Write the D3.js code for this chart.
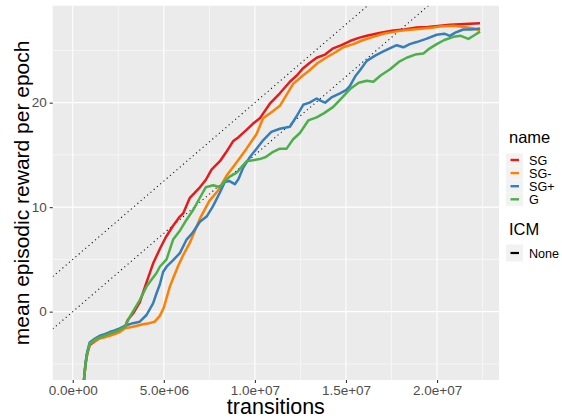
<!DOCTYPE html>
<html>
<head>
<meta charset="utf-8">
<script src="https://cdn.jsdelivr.net/npm/d3@7"></script>
<style>
  html, body { margin: 0; padding: 0; background: #fff; }
  svg { display: block; font-family: "Liberation Sans", Arial, sans-serif; }
</style>
</head>
<body>
<svg id="chart" width="562" height="419"></svg>
<script>
// Training curves: mean episodic reward per epoch vs. transitions (millions)
const seriesNames = ["SG", "SG-", "SG+", "G"];
const seriesColors = ["#E41A1C", "#FF7F00", "#377EB8", "#4DAF4A"];

const sgX = [0.55, 0.62, 0.7, 0.79, 0.93, 1.2, 1.48, 1.75, 2.03, 2.3, 2.58, 2.86, 3.02, 3.3, 3.68, 4.05, 4.41, 4.78, 5.1, 5.5, 5.88, 6.06, 6.43, 6.98, 7.3, 7.62, 8.08, 8.4, 8.8, 9.1, 9.54, 9.9, 10.27, 10.82, 11.37, 11.92, 12.3, 12.65, 13.0, 13.39, 13.85, 14.3, 14.75, 15.22, 15.7, 16.14, 16.9, 17.6, 18.2, 18.88, 19.5, 20.17, 20.71, 21.26, 21.8, 22.36];
const sgY = [-9.0, -6.5, -5.1, -4.1, -3.2, -2.85, -2.55, -2.4, -2.2, -2.0, -1.8, -1.5, -0.8, -0.2, 0.9, 2.8, 4.6, 6.0, 7.1, 8.2, 9.1, 9.4, 10.9, 11.9, 12.6, 13.6, 14.4, 15.2, 16.3, 16.7, 17.4, 18.0, 18.5, 19.9, 20.9, 22.0, 22.6, 23.3, 23.8, 24.3, 24.6, 25.2, 25.5, 25.9, 26.2, 26.4, 26.7, 26.9, 27.0, 27.2, 27.25, 27.35, 27.45, 27.5, 27.55, 27.6];

const sgmX = [0.55, 0.62, 0.7, 0.79, 0.93, 1.2, 1.48, 1.75, 2.03, 2.3, 2.58, 2.86, 3.3, 3.86, 4.2, 4.5, 4.78, 5.0, 5.33, 5.51, 5.79, 6.06, 6.43, 6.98, 7.5, 7.98, 8.44, 9.0, 9.54, 10.09, 10.45, 11.0, 11.37, 12.1, 12.5, 13.0, 13.45, 13.9, 14.4, 14.85, 15.4, 15.95, 16.5, 17.05, 17.7, 18.33, 19.0, 19.8, 20.17, 20.9, 21.5, 22.0, 22.36];
const sgmY = [-9.0, -6.5, -5.0, -4.0, -3.1, -2.8, -2.55, -2.45, -2.3, -2.15, -1.95, -1.6, -1.45, -1.2, -1.1, -0.96, -0.4, 0.4, 2.4, 3.2, 4.4, 5.4, 6.6, 8.9, 10.6, 11.6, 13.0, 14.3, 15.6, 17.0, 18.5, 19.2, 19.7, 21.8, 22.4, 23.1, 23.8, 24.3, 24.8, 25.3, 25.6, 26.0, 26.3, 26.6, 26.8, 26.95, 27.05, 27.2, 27.3, 27.35, 27.25, 27.1, 26.9];

const sgpX = [0.55, 0.62, 0.7, 0.79, 0.93, 1.2, 1.48, 1.75, 2.03, 2.3, 2.58, 2.86, 3.31, 3.68, 4.05, 4.41, 4.6, 4.78, 4.96, 5.15, 5.5, 5.88, 6.25, 6.6, 6.98, 7.35, 7.7, 8.08, 8.35, 8.6, 8.9, 9.1, 9.36, 9.73, 10.09, 10.45, 10.9, 11.37, 11.92, 12.29, 12.65, 13.0, 13.39, 13.6, 13.85, 14.2, 14.67, 15.0, 15.22, 15.5, 15.77, 16.14, 16.6, 17.05, 17.4, 17.78, 18.15, 18.5, 18.88, 19.4, 19.98, 20.4, 20.7, 21.0, 21.44, 21.9, 22.36];
const sgpY = [-9.0, -6.4, -4.9, -3.9, -2.95, -2.6, -2.3, -2.15, -1.95, -1.8, -1.6, -1.35, -1.1, -0.96, -0.32, 0.8, 1.76, 2.6, 3.8, 4.3, 4.9, 5.6, 6.9, 7.6, 8.6, 9.1, 10.1, 11.4, 12.4, 12.5, 12.2, 12.7, 13.8, 14.8, 15.6, 16.4, 17.2, 17.5, 17.7, 18.7, 19.8, 20.0, 20.4, 20.2, 20.0, 20.5, 20.9, 21.2, 21.6, 22.5, 23.1, 24.0, 24.5, 24.9, 25.2, 25.5, 25.3, 25.6, 25.8, 26.1, 26.5, 26.6, 26.4, 26.7, 27.0, 27.0, 27.1];

const gX = [0.55, 0.62, 0.7, 0.79, 0.93, 1.2, 1.48, 1.75, 2.03, 2.3, 2.58, 2.86, 3.13, 3.4, 3.68, 4.05, 4.3, 4.6, 4.78, 5.15, 5.51, 5.9, 6.25, 6.6, 6.98, 7.3, 7.71, 8.08, 8.26, 8.6, 9.0, 9.54, 9.9, 10.27, 10.6, 11.0, 11.37, 11.74, 12.1, 12.47, 12.93, 13.39, 13.8, 14.3, 14.8, 15.22, 15.7, 16.14, 16.5, 16.9, 17.42, 17.9, 18.33, 18.8, 19.25, 19.6, 19.98, 20.4, 20.9, 21.3, 21.72, 22.0, 22.36];
const gY = [-9.0, -6.5, -5.0, -4.0, -3.05, -2.7, -2.45, -2.3, -2.1, -1.95, -1.72, -1.45, -0.5, 0.3, 1.1, 2.4, 3.0, 3.7, 4.3, 5.0, 6.9, 7.8, 8.8, 9.7, 10.9, 11.9, 12.1, 11.9, 12.3, 12.9, 13.3, 14.4, 14.5, 14.6, 14.8, 15.3, 15.6, 15.6, 16.5, 17.1, 18.3, 18.6, 19.0, 19.6, 20.5, 21.3, 21.9, 22.1, 22.0, 22.6, 23.2, 23.9, 24.3, 24.6, 24.7, 25.2, 25.6, 26.0, 26.3, 26.4, 26.1, 26.4, 26.8];

const seriesX = [sgX, sgmX, sgpX, gX];
const seriesY = [sgY, sgmY, sgpY, gY];

// Reference lines y = slope * x + intercept (x in millions)
const refSlope = 1.5;
const refIntercepts = [5, 0];

const xTicks = [0, 5e6, 1e7, 1.5e7, 2e7];
const xMinor = [2.5e6, 7.5e6, 1.25e7, 1.75e7, 2.25e7];
const yTicks = [0, 10, 20];
const yMinor = [-5, 5, 15, 25];

const svg = d3.select("#chart");
const panel = { left: 52.7, right: 499, top: 5.7, bottom: 380 };

const x = d3.scaleLinear().domain([-1.1e6, 23.4e6]).range([panel.left, panel.right]);
const y = d3.scaleLinear().domain([-6.54, 29.28]).range([panel.bottom, panel.top]);

// Panel background
svg.append("rect")
  .attr("x", panel.left).attr("y", panel.top)
  .attr("width", panel.right - panel.left).attr("height", panel.bottom - panel.top)
  .attr("fill", "#EBEBEB");

// Grid lines
const grid = svg.append("g");
grid.selectAll(".xminor").data(xMinor).join("line")
  .attr("x1", d => x(d)).attr("x2", d => x(d))
  .attr("y1", panel.top).attr("y2", panel.bottom)
  .attr("stroke", "#fff").attr("stroke-width", 0.55);
grid.selectAll(".yminor").data(yMinor).join("line")
  .attr("y1", d => y(d)).attr("y2", d => y(d))
  .attr("x1", panel.left).attr("x2", panel.right)
  .attr("stroke", "#fff").attr("stroke-width", 0.55);
grid.selectAll(".xmajor").data(xTicks).join("line")
  .attr("x1", d => x(d)).attr("x2", d => x(d))
  .attr("y1", panel.top).attr("y2", panel.bottom)
  .attr("stroke", "#fff").attr("stroke-width", 1.1);
grid.selectAll(".ymajor").data(yTicks).join("line")
  .attr("y1", d => y(d)).attr("y2", d => y(d))
  .attr("x1", panel.left).attr("x2", panel.right)
  .attr("stroke", "#fff").attr("stroke-width", 1.1);

svg.append("clipPath").attr("id", "clip")
  .append("rect")
  .attr("x", panel.left).attr("y", panel.top)
  .attr("width", panel.right - panel.left).attr("height", panel.bottom - panel.top);

const plot = svg.append("g").attr("clip-path", "url(#clip)");

// Dotted reference lines
const xDom = x.domain();
refIntercepts.forEach(b => {
  plot.append("line")
    .attr("x1", x(xDom[0])).attr("y1", y(refSlope * xDom[0] / 1e6 + b))
    .attr("x2", x(xDom[1])).attr("y2", y(refSlope * xDom[1] / 1e6 + b))
    .attr("stroke", "#111").attr("stroke-width", 1.1)
    .attr("stroke-dasharray", "1.1,3.2");
});

// Series lines
const line = d3.line().x(d => x(d[0] * 1e6)).y(d => y(d[1]));
seriesNames.forEach((name, i) => {
  const pts = seriesX[i].map((v, j) => [v, seriesY[i][j]]);
  plot.append("path")
    .datum(pts)
    .attr("d", line)
    .attr("fill", "none")
    .attr("stroke", seriesColors[i])
    .attr("stroke-width", 2.5)
    .attr("stroke-linejoin", "round");
});

// Axes
const sci = v => {
  if (v === 0) return "0.0e+00";
  const e = Math.floor(Math.log10(Math.abs(v)));
  const m = v / Math.pow(10, e);
  return m.toFixed(1) + "e" + (e >= 0 ? "+" : "-") + String(Math.abs(e)).padStart(2, "0");
};

const xAxis = svg.append("g")
  .attr("transform", `translate(0,${panel.bottom})`)
  .call(d3.axisBottom(x).tickValues(xTicks).tickFormat(sci).tickSize(3).tickPadding(2.5));
const yAxis = svg.append("g")
  .attr("transform", `translate(${panel.left},0)`)
  .call(d3.axisLeft(y).tickValues(yTicks).tickSize(3).tickPadding(3));

[xAxis, yAxis].forEach(a => {
  a.select(".domain").remove();
  a.selectAll(".tick line").attr("stroke", "#333").attr("stroke-width", 1.1);
  a.selectAll(".tick text").attr("fill", "#4D4D4D").style("font-size", "13.5px")
    .style("font-family", "'Liberation Sans', Arial, sans-serif");
});

// Axis titles
svg.append("text")
  .attr("x", (panel.left + panel.right) / 2).attr("y", 413.5)
  .attr("text-anchor", "middle")
  .style("font-size", "21.5px").attr("fill", "#000")
  .text("transitions");
svg.append("text")
  .attr("transform", `translate(29,${(panel.top + panel.bottom) / 2}) rotate(-90)`)
  .attr("text-anchor", "middle")
  .style("font-size", "21px").attr("fill", "#000")
  .text("mean episodic reward per epoch");

// Legend: name
const legend = svg.append("g");
legend.append("text").attr("x", 509).attr("y", 143)
  .style("font-size", "16.5px").text("name");
const keyY = [160, 173.1, 186.2, 199.3];
seriesNames.forEach((name, i) => {
  legend.append("rect").attr("x", 506).attr("y", keyY[i] - 6.5)
    .attr("width", 17).attr("height", 13).attr("fill", "#F2F2F2");
  legend.append("line").attr("x1", 510.5).attr("x2", 519)
    .attr("y1", keyY[i]).attr("y2", keyY[i])
    .attr("stroke", seriesColors[i]).attr("stroke-width", 2.4);
  legend.append("text").attr("x", 529).attr("y", keyY[i] + 4.5)
    .style("font-size", "12.6px").attr("fill", "#000").text(name);
});

// Legend: ICM
legend.append("text").attr("x", 509).attr("y", 235)
  .style("font-size", "16.5px").text("ICM");
legend.append("rect").attr("x", 506).attr("y", 253 - 8.5)
  .attr("width", 17).attr("height", 17).attr("fill", "#F2F2F2");
legend.append("line").attr("x1", 510.5).attr("x2", 519)
  .attr("y1", 253).attr("y2", 253)
  .attr("stroke", "#000").attr("stroke-width", 2.2);
legend.append("text").attr("x", 529).attr("y", 257.5)
  .style("font-size", "12.6px").text("None");
</script>
</body>
</html>
